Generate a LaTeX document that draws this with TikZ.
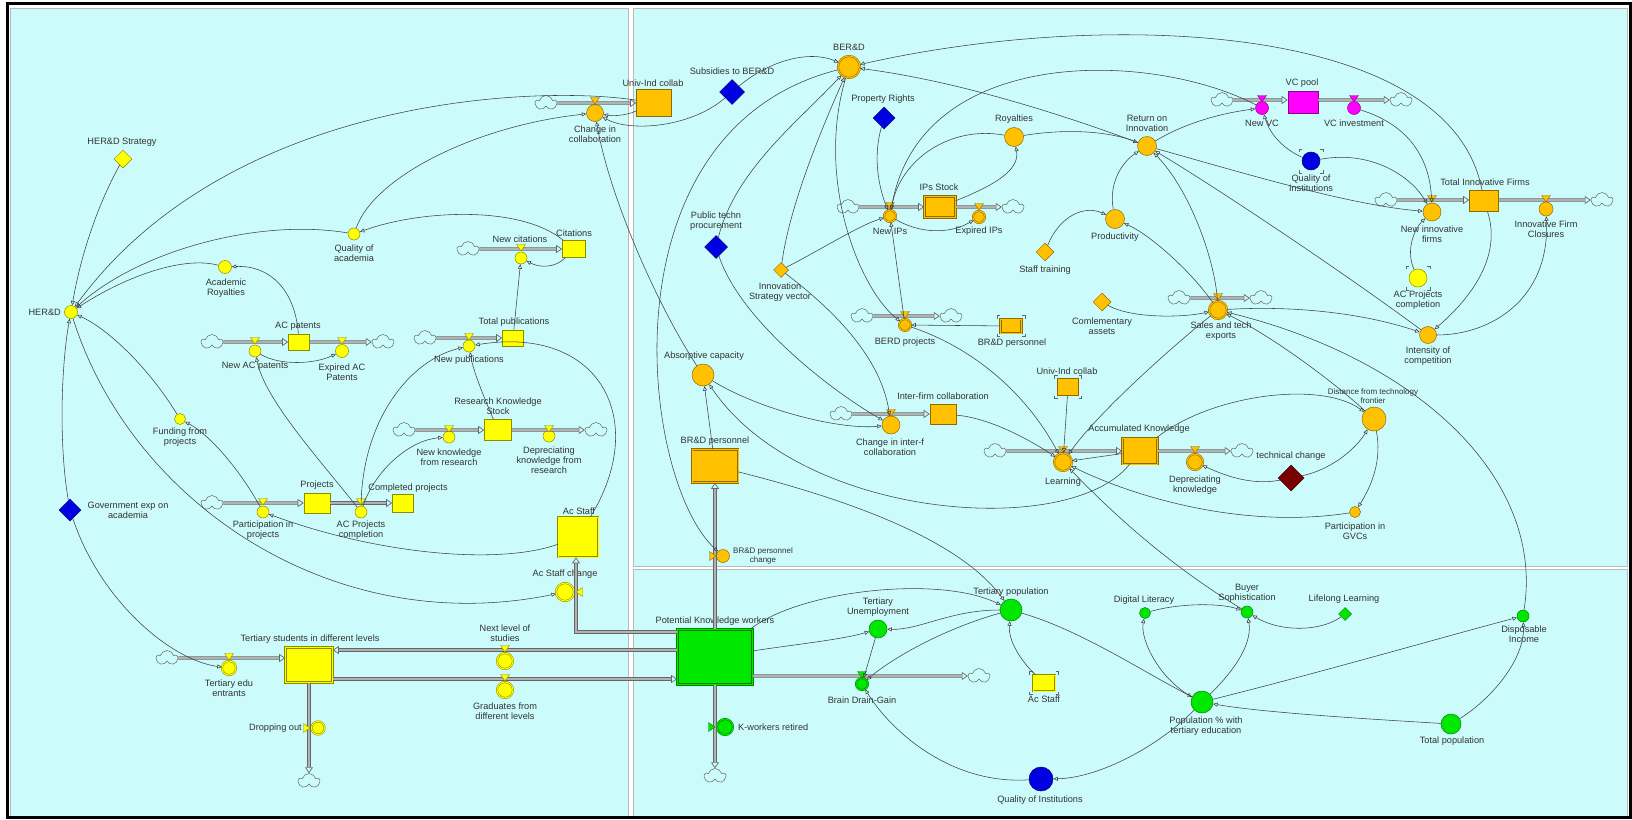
\documentclass[tikz,border=0pt]{standalone}
\usepackage{fontspec}
\setmainfont{Liberation Sans}
\usetikzlibrary{shapes.geometric,shapes.symbols,arrows.meta}

\definecolor{panel}{RGB}{204,251,251}
\definecolor{sdyellow}{RGB}{255,255,0}
\definecolor{sdorange}{RGB}{255,193,0}
\definecolor{sdgreen}{RGB}{0,232,0}
\definecolor{sdblue}{RGB}{0,0,225}
\definecolor{sdpink}{RGB}{255,0,255}
\definecolor{sdred}{RGB}{120,0,0}

% valve bow on a horizontal pipe: x, pipe y, colour
\newcommand{\valvetop}[3]{%
  \filldraw[fill=#3, draw=#3!55!black, line width=0.4pt]
    ({#1-4.5},{#2-3.5}) -- ({#1+4.5},{#2-3.5}) -- (#1,{#2+3}) -- cycle;}
% valve bow on a vertical pipe: x, y, colour, direction (1 right, -1 left)
\newcommand{\valveside}[4]{%
  \filldraw[fill=#3, draw=#3!55!black, line width=0.4pt]
    ({#1-3.5*(#4)},{#2-4.5}) -- ({#1-3.5*(#4)},{#2+4.5}) -- ({#1+3*(#4)},#2) -- cycle;}
% corner marks of a ghost: x, y, half width, half height
\newcommand{\ghostmarks}[4]{%
  \draw[black!60, line width=0.6pt]
    ({#1-#3},{#2-#4+3}) -- ({#1-#3},{#2-#4}) -- ({#1-#3+3},{#2-#4})
    ({#1+#3-3},{#2-#4}) -- ({#1+#3},{#2-#4}) -- ({#1+#3},{#2-#4+3})
    ({#1-#3},{#2+#4-3}) -- ({#1-#3},{#2+#4}) -- ({#1-#3+3},{#2+#4})
    ({#1+#3-3},{#2+#4}) -- ({#1+#3},{#2+#4}) -- ({#1+#3},{#2+#4-3});}

\begin{document}
\begin{tikzpicture}[x=1pt, y=-1pt,
  lbl/.style={font=\fontsize{9.2}{10}\selectfont, text=black!80, align=center, inner sep=0pt},
  smalllbl/.style={font=\fontsize{8}{8.5}\selectfont, text=black!80, align=center, inner sep=0pt},
  conv/.style={circle, draw=#1!55!black, fill=#1, inner sep=0pt, line width=0.5pt},
  stockbox/.style={rectangle, draw=#1!55!black, fill=#1, inner sep=0pt, line width=0.6pt},
  constd/.style={diamond, aspect=1, draw=#1!55!black, fill=#1, inner sep=0pt, line width=0.5pt},
  dbl/.style={double=#1, double distance=1pt},
  cloudy/.style={cloud, cloud puffs=5, draw=black!60, fill=panel, line width=0.5pt,
    minimum width=21pt, minimum height=15pt, inner sep=0pt},
  link/.style={draw=black!75, line width=0.55pt, -{Triangle[open,length=4.5pt,width=4pt]}},
  pipe/.style={draw=black!60, double=black!30, double distance=1.7pt, line width=0.7pt,
    -{Triangle[open,length=6pt,width=8pt]}}]

\useasboundingbox (0,0) rectangle (1632,819);
\fill[white] (0,0) rectangle (1632,819);
% the three sectors
\filldraw[fill=panel, draw=gray!55, line width=1pt] (10,8) rectangle (628,816);
\filldraw[fill=panel, draw=gray!55, line width=1pt] (633,8) rectangle (1627,566);
\filldraw[fill=panel, draw=gray!55, line width=1pt] (633,569) rectangle (1627,816);
\draw[line width=3pt] (7.5,3.5) rectangle (1630,817.5);

% academia
\node[constd=sdyellow, minimum size=18pt] (herdstrat) at (123,159) {};
\node[lbl] (herdstratT) at (122,142) {HER\&D Strategy};
\node[conv=sdyellow, minimum size=13pt] (herd) at (71,312) {};
\node[lbl, anchor=east] (herdT) at (61,312) {HER\&D};
\node[conv=sdyellow, minimum size=12pt] (qualacad) at (354,234) {};
\node[lbl] (qualacadT) at (354,253) {Quality of\\academia};
\node[conv=sdyellow, minimum size=13pt] (acroy) at (225,267) {};
\node[lbl] (acroyT) at (226,288) {Academic\\Royalties};
\node[stockbox=sdyellow, minimum width=21pt, minimum height=16pt] (acpat) at (299,342) {};
\node[lbl] (acpatT) at (298,326) {AC patents};
\node[cloudy] (cl1) at (212,342) {};
\node[conv=sdyellow, minimum size=12pt] (newacpat) at (255,351) {};
\node[lbl] (newacpatT) at (255,366) {New AC patents};
\node[conv=sdyellow, minimum size=13pt] (expacpat) at (342,351) {};
\node[lbl] (expacpatT) at (342,372) {Expired AC\\Patents};
\node[cloudy] (cl2) at (383,342) {};
\node[conv=sdyellow, minimum size=11pt] (fundproj) at (180,419) {};
\node[lbl] (fundprojT) at (180,437) {Funding from\\projects};
\node[constd=sdblue, minimum size=22pt] (govexp) at (70,510) {};
\node[lbl] (govexpT) at (128,510) {Government exp on\\academia};
\node[stockbox=sdyellow, minimum width=26pt, minimum height=20pt] (proj) at (317,503) {};
\node[lbl] (projT) at (317,485) {Projects};
\node[cloudy] (cl3) at (212,503) {};
\node[conv=sdyellow, minimum size=12pt] (partproj) at (263,512) {};
\node[lbl] (partprojT) at (263,530) {Participation in\\projects};
\node[conv=sdyellow, minimum size=12pt] (acprojc) at (361,512) {};
\node[lbl] (acprojcT) at (361,530) {AC Projects\\completion};
\node[stockbox=sdyellow, minimum width=21pt, minimum height=18pt] (complproj) at (403,503) {};
\node[lbl] (complprojT) at (408,488) {Completed projects};
\node[stockbox=sdyellow, minimum width=23pt, minimum height=17pt] (cit) at (574,249) {};
\node[lbl] (citT) at (574,233) {Citations};
\node[cloudy] (cl4) at (468,249) {};
\node[conv=sdyellow, minimum size=12pt] (newcit) at (521,258) {};
\node[lbl] (newcitT) at (520,239) {New citations};
\node[stockbox=sdyellow, minimum width=21pt, minimum height=16pt] (totpub) at (513,338) {};
\node[lbl] (totpubT) at (514,322) {Total publications};
\node[cloudy] (cl5) at (425,338) {};
\node[conv=sdyellow, minimum size=12pt] (newpub) at (469,346) {};
\node[lbl] (newpubT) at (469,360) {New publications};
\node[stockbox=sdyellow, minimum width=27pt, minimum height=21pt] (rks) at (498,430) {};
\node[lbl] (rksT) at (498,406) {Research Knowledge\\Stock};
\node[cloudy] (cl6) at (404,430) {};
\node[conv=sdyellow, minimum size=12pt] (newknow) at (449,437) {};
\node[lbl] (newknowT) at (449,457) {New knowledge\\from research};
\node[conv=sdyellow, minimum size=12pt] (depres) at (549,436) {};
\node[lbl] (depresT) at (549,460) {Depreciating\\knowledge from\\research};
\node[cloudy] (cl7) at (596,430) {};
\node[stockbox=sdyellow, dbl=sdyellow, minimum width=40pt, minimum height=40pt] (acstaff) at (578,537) {};
\node[lbl] (acstaffT) at (579,511) {Ac Staff};
\node[conv=sdyellow, dbl=sdyellow, minimum size=18pt] (acstaffch) at (565,592) {};
\node[lbl] (acstaffchT) at (565,574) {Ac Staff change};
\node[stockbox=sdyellow, dbl=sdyellow, minimum width=47pt, minimum height=35pt] (tsdl) at (309,665) {};
\node[lbl] (tsdlT) at (310,639) {Tertiary students in different levels};
\node[cloudy] (cl8) at (167,658) {};
\node[conv=sdyellow, dbl=sdyellow, minimum size=14pt] (tedu) at (229,668) {};
\node[lbl] (teduT) at (229,688) {Tertiary edu\\entrants};
\node[conv=sdyellow, dbl=sdyellow, minimum size=13pt] (dropout) at (318,728) {};
\node[lbl, anchor=east] (dropoutT) at (302,728) {Dropping out};
\node[cloudy] (cl9) at (309,781) {};
\node[conv=sdyellow, dbl=sdyellow, minimum size=16pt] (nextlev) at (505,661) {};
\node[lbl] (nextlevT) at (505,633) {Next level of\\studies};
\node[conv=sdyellow, dbl=sdyellow, minimum size=16pt] (grad) at (505,690) {};
\node[lbl] (gradT) at (505,711) {Graduates from\\different levels};
\node[stockbox=sdgreen, dbl=sdgreen, minimum width=75pt, minimum height=55pt] (pkw) at (715,657) {};
\node[lbl] (pkwT) at (715,621) {Potential Knowledge workers};
\node[conv=sdgreen, dbl=sdgreen, minimum size=16pt] (kwret) at (725,727) {};
\node[lbl, anchor=west] (kwretT) at (738,727) {K-workers retired};
\node[cloudy] (cl10) at (715,776) {};

% business sector
\node[stockbox=sdorange, minimum width=35pt, minimum height=27pt] (univind) at (654,103) {};
\node[lbl] (univindT) at (653,83) {Univ-Ind collab};
\node[cloudy] (cl11) at (546,103) {};
\node[conv=sdorange, minimum size=17pt] (chcollab) at (595,113) {};
\node[lbl] (chcollabT) at (595,134) {Change in\\collaboration};
\node[constd=sdblue, minimum size=25pt] (subs) at (732,92) {};
\node[lbl] (subsT) at (732,71) {Subsidies to BER\&D};
\node[constd=sdblue, minimum size=23pt] (pubtech) at (716,247) {};
\node[lbl] (pubtechT) at (716,221) {Public techn\\procurement};
\node[constd=sdorange, minimum size=15pt] (innovstrat) at (781,270) {};
\node[lbl] (innovstratT) at (780,292) {Innovation\\Strategy vector};
\node[conv=sdorange, dbl=sdorange, minimum size=22pt] (berd) at (849,67) {};
\node[lbl] (berdT) at (849,47) {BER\&D};
\node[constd=sdblue, minimum size=22pt] (proprights) at (884,118) {};
\node[lbl] (proprightsT) at (883,99) {Property Rights};
\node[conv=sdorange, minimum size=19pt] (royalties) at (1014,137) {};
\node[lbl] (royaltiesT) at (1014,119) {Royalties};
\node[conv=sdorange, minimum size=19pt] (retinn) at (1147,146) {};
\node[lbl] (retinnT) at (1147,123) {Return on\\Innovation};
\node[stockbox=sdorange, dbl=sdorange, minimum width=31pt, minimum height=21pt] (ipsstock) at (940,207) {};
\node[lbl] (ipsstockT) at (939,187) {IPs Stock};
\node[cloudy] (cl12) at (848,207) {};
\node[conv=sdorange, dbl=sdorange, minimum size=12pt] (newips) at (890,216) {};
\node[lbl] (newipsT) at (890,231) {New IPs};
\node[conv=sdorange, dbl=sdorange, minimum size=12pt] (expips) at (979,217) {};
\node[lbl] (expipsT) at (979,231) {Expired IPs};
\node[cloudy] (cl13) at (1013,207) {};
\node[conv=sdorange, minimum size=19pt] (productivity) at (1115,219) {};
\node[lbl] (productivityT) at (1115,237) {Productivity};
\node[constd=sdorange, minimum size=18pt] (stafftrain) at (1045,252) {};
\node[lbl] (stafftrainT) at (1045,270) {Staff training};
\node[stockbox=sdpink, minimum width=30pt, minimum height=22pt] (vcpool) at (1303,102) {};
\node[lbl] (vcpoolT) at (1302,83) {VC pool};
\node[cloudy] (cl14) at (1222,100) {};
\node[conv=sdpink, minimum size=13pt] (newvc) at (1262,108) {};
\node[lbl] (newvcT) at (1262,123) {New VC};
\node[conv=sdpink, minimum size=13pt] (vcinv) at (1354,108) {};
\node[lbl] (vcinvT) at (1354,123) {VC investment};
\node[cloudy] (cl15) at (1401,100) {};
\node[conv=sdblue, minimum size=18pt] (qinst1) at (1311,161) {};
\node[lbl] (qinst1T) at (1311,183) {Quality of\\Institutions};
\node[stockbox=sdorange, minimum width=29pt, minimum height=21pt] (totinnov) at (1484,201) {};
\node[lbl] (totinnovT) at (1485,182) {Total Innovative Firms};
\node[cloudy] (cl16) at (1386,200) {};
\node[conv=sdorange, minimum size=18pt] (newinnov) at (1432,212) {};
\node[lbl] (newinnovT) at (1432,234.5) {New innovative\\firms};
\node[conv=sdorange, minimum size=14pt] (innovclos) at (1546,209) {};
\node[lbl] (innovclosT) at (1546,229) {Innovative Firm\\Closures};
\node[cloudy] (cl17) at (1602,200) {};
\node[conv=sdyellow, minimum size=18pt] (acprojg) at (1418,278) {};
\node[lbl] (acprojgT) at (1418,300.5) {AC Projects\\completion};
\node[conv=sdorange, minimum size=17pt] (intcomp) at (1428,335) {};
\node[lbl] (intcompT) at (1428,356.5) {Intensity of\\competition};
\node[conv=sdorange, minimum size=24pt] (distfront) at (1374,419) {};
\node[smalllbl] (distfrontT) at (1373,396) {Distance from technology\\frontier};
\node[constd=sdred, minimum size=26pt] (techch) at (1291,478) {};
\node[lbl] (techchT) at (1291,456) {technical change};
\node[conv=sdorange, minimum size=11pt] (partgvc) at (1355,512) {};
\node[lbl] (partgvcT) at (1355,531) {Participation in\\GVCs};
\node[cloudy] (cl18) at (1179,298) {};
\node[cloudy] (cl19) at (1261,298) {};
\node[conv=sdorange, dbl=sdorange, minimum size=18pt] (salestech) at (1218,310) {};
\node[lbl] (salestechT) at (1221,331) {Sales and tech\\exports};
\node[cloudy] (cl20) at (862,316) {};
\node[cloudy] (cl21) at (951,316) {};
\node[conv=sdorange, dbl=sdorange, minimum size=12pt] (berdproj) at (905,325) {};
\node[lbl] (berdprojT) at (905,342) {BERD projects};
\node[stockbox=sdorange, dbl=sdorange, minimum width=21pt, minimum height=14pt] (brdpersg) at (1011,326) {};
\node[lbl] (brdpersgT) at (1012,343) {BR\&D personnel};
\node[constd=sdorange, minimum size=18pt] (complassets) at (1102,302) {};
\node[lbl] (complassetsT) at (1102,326) {Comlementary\\assets};
\node[stockbox=sdorange, minimum width=21pt, minimum height=17pt] (univindg) at (1068,387) {};
\node[lbl] (univindgT) at (1067,371) {Univ-Ind collab};
\node[stockbox=sdorange, minimum width=26pt, minimum height=20pt] (interfirm) at (943,414) {};
\node[lbl] (interfirmT) at (943,396) {Inter-firm collaboration};
\node[cloudy] (cl22) at (841,414) {};
\node[conv=sdorange, minimum size=18pt] (chinterf) at (891,425) {};
\node[lbl] (chinterfT) at (890,447) {Change in inter-f\\collaboration};
\node[cloudy] (cl23) at (995,451) {};
\node[conv=sdorange, dbl=sdorange, minimum size=18pt] (learning) at (1063,462) {};
\node[lbl] (learningT) at (1063,482) {Learning};
\node[stockbox=sdorange, dbl=sdorange, minimum width=35pt, minimum height=26pt] (accknow) at (1140,451) {};
\node[lbl] (accknowT) at (1139,429) {Accumulated Knowledge};
\node[conv=sdorange, dbl=sdorange, minimum size=16pt] (depknow) at (1195,462) {};
\node[lbl] (depknowT) at (1195,485) {Depreciating\\knowledge};
\node[cloudy] (cl24) at (1242,451) {};
\node[conv=sdorange, minimum size=22pt] (abscap) at (703,375) {};
\node[lbl] (abscapT) at (704,356) {Absorptive capacity};
\node[stockbox=sdorange, dbl=sdorange, minimum width=46pt, minimum height=33pt] (brdpers) at (715,466) {};
\node[lbl] (brdpersT) at (715,441) {BR\&D personnel};
\node[conv=sdorange, minimum size=13pt] (brdpch) at (723,556) {};
\node[smalllbl] (brdpchT) at (763,556) {BR\&D personnel\\change};

% society
\node[conv=sdgreen, minimum size=22pt] (terpop) at (1011,610) {};
\node[lbl] (terpopT) at (1011,592) {Tertiary population};
\node[conv=sdgreen, minimum size=18pt] (terunemp) at (878,629) {};
\node[lbl] (terunempT) at (878,607.5) {Tertiary\\Unemployment};
\node[conv=sdgreen, dbl=sdgreen, minimum size=12pt] (braindrain) at (862,684) {};
\node[lbl] (braindrainT) at (862,700) {Brain Drain-Gain};
\node[cloudy] (cl25) at (979,676) {};
\node[stockbox=sdyellow, dbl=sdyellow, minimum width=22pt, minimum height=16pt] (acstaffg) at (1044,683) {};
\node[lbl] (acstaffgT) at (1044,699) {Ac Staff};
\node[conv=sdgreen, minimum size=11pt] (diglit) at (1145,613) {};
\node[lbl] (diglitT) at (1144,600) {Digital Literacy};
\node[conv=sdgreen, minimum size=22pt] (popter) at (1202,702) {};
\node[lbl] (popterT) at (1206,726.5) {Population \% with\\tertiary education};
\node[conv=sdblue, minimum size=24pt] (qinst2) at (1041,779) {};
\node[lbl] (qinst2T) at (1040,800) {Quality of Institutions};
\node[conv=sdgreen, minimum size=12pt] (buyersoph) at (1247,612) {};
\node[lbl] (buyersophT) at (1247,593) {Buyer\\Sophistication};
\node[constd=sdgreen, minimum size=13pt] (lifelong) at (1345,614) {};
\node[lbl] (lifelongT) at (1344,599) {Lifelong Learning};
\node[conv=sdgreen, minimum size=12pt] (dispinc) at (1523,616) {};
\node[lbl] (dispincT) at (1524,634) {Disposable\\Income};
\node[conv=sdgreen, minimum size=20pt] (totpop) at (1451,724) {};
\node[lbl] (totpopT) at (1452,741) {Total population};

\ghostmarks{1011}{326}{14}{10.5}
\ghostmarks{1068}{387}{13.5}{11.5}
\ghostmarks{1044}{683}{14.5}{11.5}
\ghostmarks{1311}{161}{12}{12}
\ghostmarks{1418}{278}{12}{12}

% flows
\draw[pipe] (cl1) -- (acpat);
\draw[pipe] (acpat) -- (cl2);
\draw[pipe] (cl3) -- (proj);
\draw[pipe] (proj) -- (complproj);
\draw[pipe] (cl4) -- (cit);
\draw[pipe] (cl5) -- (totpub);
\draw[pipe] (cl6) -- (rks);
\draw[pipe] (rks) -- (cl7);
\draw[pipe] (cl8) -- ([yshift=7pt]tsdl.west);
\draw[pipe] (tsdl) -- (cl9);
\draw[pipe] ([yshift=7pt]pkw.west) -- ([yshift=15pt]tsdl.east);
\draw[pipe] ([yshift=-14pt]tsdl.east) -- ([yshift=-22pt]pkw.west);
\draw[pipe] ([yshift=25pt]pkw.west) -| ([xshift=-2pt]acstaff.south);
\draw[pipe] (pkw) -- (brdpers);
\draw[pipe] (pkw) -- (cl10);
\draw[pipe] ([yshift=-19pt]pkw.east) -- (cl25);
\draw[pipe] (cl11) -- (univind);
\draw[pipe] (cl12) -- (ipsstock);
\draw[pipe] (ipsstock) -- (cl13);
\draw[pipe] (cl14) -- ([yshift=2pt]vcpool.west);
\draw[pipe] ([yshift=2pt]vcpool.east) -- (cl15);
\draw[pipe] (cl16) -- ([yshift=1pt]totinnov.west);
\draw[pipe] ([yshift=1pt]totinnov.east) -- (cl17);
\draw[pipe] (cl18) -- (cl19);
\draw[pipe] (cl20) -- (cl21);
\draw[pipe] (cl22) -- (interfirm);
\draw[pipe] (cl23) -- (accknow);
\draw[pipe] (accknow) -- (cl24);

\valvetop{255}{341}{sdyellow}
\valvetop{342}{341}{sdyellow}
\valvetop{263}{502}{sdyellow}
\valvetop{361}{502}{sdyellow}
\valvetop{521}{248}{sdyellow}
\valvetop{469}{337}{sdyellow}
\valvetop{449}{429}{sdyellow}
\valvetop{549}{429}{sdyellow}
\valvetop{229}{657}{sdyellow}
\valvetop{505}{649}{sdyellow}
\valvetop{505}{678}{sdyellow}
\valvetop{595}{101}{sdorange}
\valvetop{890}{206}{sdorange}
\valvetop{979}{207}{sdorange}
\valvetop{1262}{99}{sdpink}
\valvetop{1354}{99}{sdpink}
\valvetop{1432}{199}{sdorange}
\valvetop{1546}{199}{sdorange}
\valvetop{1218}{297}{sdorange}
\valvetop{905}{315}{sdorange}
\valvetop{891}{413}{sdorange}
\valvetop{1063}{450}{sdorange}
\valvetop{1195}{450}{sdorange}
\valvetop{862}{675}{sdgreen}
\valveside{307}{728}{sdyellow}{1}
\valveside{579}{592}{sdyellow}{-1}
\valveside{713}{556}{sdorange}{1}
\valveside{712}{727}{sdgreen}{1}

% information links
\draw[link] (herdstrat) .. controls (95,210) and (80,260) .. (herd);
\draw[link] (univind) .. controls (540,85) and (230,95) .. (herd);
\draw[link] (qualacad) .. controls (260,218) and (140,250) .. (herd);
\draw[link] (acroy) .. controls (180,255) and (120,280) .. (herd);
\draw[link] (qualacad) .. controls (375,175) and (480,125) .. (chcollab);
\draw[link] (cit) .. controls (520,205) and (420,210) .. (qualacad);
\draw[link] (totpub) -- (newcit);
\draw[link] (cit) .. controls (555,268) and (540,268) .. (newcit);
\draw[link] (acpat) .. controls (295,290) and (270,265) .. (acroy);
\draw[link] (newacpat) .. controls (280,366) and (315,364) .. (expacpat);
\draw[link] (acprojc) .. controls (320,460) and (265,400) .. (newacpat);
\draw[link] (fundproj) .. controls (150,370) and (110,330) .. (herd);
\draw[link] (partproj) .. controls (240,470) and (210,435) .. (fundproj);
\draw[link] (govexp) .. controls (58,440) and (62,360) .. (herd);
\draw[link] (govexp) .. controls (100,600) and (170,660) .. (tedu);
\draw[link] (herd) .. controls (130,500) and (330,640) .. (acstaffch);
\draw[link] (acstaff) .. controls (500,565) and (380,555) .. (partproj);
\draw[link] (acstaff) .. controls (650,420) and (600,325) .. (newpub);
\draw[link] (rks) .. controls (483,395) and (473,370) .. (newpub);
\draw[link] (acprojc) .. controls (362,420) and (410,360) .. (newpub);
\draw[link] (acprojc) .. controls (375,470) and (410,440) .. (newknow);
\draw[link] (abscap) .. controls (660,310) and (610,200) .. (chcollab);
\draw[link] (berd) .. controls (600,130) and (640,480) .. (brdpch);
\draw[link] (univind) .. controls (625,116) and (612,116) .. (chcollab);
\draw[link] (subs) .. controls (770,60) and (810,50) .. (berd);
\draw[link] (subs) .. controls (690,128) and (630,132) .. (chcollab);
\draw[link] (pubtech) .. controls (735,170) and (800,120) .. (berd);
\draw[link] (pubtech) .. controls (740,320) and (830,390) .. (chinterf);
\draw[link] (innovstrat) .. controls (790,200) and (830,110) .. (berd);
\draw[link] (innovstrat) .. controls (820,250) and (860,225) .. (newips);
\draw[link] (innovstrat) .. controls (820,300) and (880,350) .. (chinterf);
\draw[link] (abscap) .. controls (760,410) and (840,430) .. (chinterf);
\draw[link] (accknow) .. controls (1070,540) and (800,520) .. (abscap);
\draw[link] (berd) .. controls (815,180) and (860,290) .. (berdproj);
\draw[link] (proprights) .. controls (872,160) and (880,190) .. (newips);
\draw[link] (newvc) .. controls (1150,50) and (920,45) .. (newips);
\draw[link] (royalties) .. controls (950,125) and (900,160) .. (newips);
\draw[link] (ipsstock) .. controls (995,185) and (1020,170) .. (royalties);
\draw[link] (newips) .. controls (920,234) and (950,234) .. (expips);
\draw[link] (royalties) .. controls (1070,128) and (1110,132) .. (retinn);
\draw[link] (retinn) .. controls (1050,110) and (950,80) .. (berd);
\draw[link] (totinnov) .. controls (1450,20) and (1100,10) .. (berd);
\draw[link] (berdproj) -- (newips);
\draw[link] (brdpersg) -- (berdproj);
\draw[link] (berdproj) .. controls (980,350) and (1030,400) .. (learning);
\draw[link] (productivity) .. controls (1108,180) and (1125,160) .. (retinn);
\draw[link] (stafftrain) .. controls (1060,215) and (1085,205) .. (productivity);
\draw[link] (salestech) .. controls (1190,270) and (1150,235) .. (productivity);
\draw[link] (retinn) .. controls (1190,120) and (1230,112) .. (newvc);
\draw[link] (retinn) .. controls (1250,175) and (1350,205) .. (newinnov);
\draw[link] (intcomp) .. controls (1340,270) and (1220,190) .. (retinn);
\draw[link] (salestech) .. controls (1215,260) and (1190,190) .. (retinn);
\draw[link] (qinst1) .. controls (1370,150) and (1410,175) .. (newinnov);
\draw[link] (qinst1) .. controls (1285,150) and (1270,135) .. (newvc);
\draw[link] (vcinv) .. controls (1410,125) and (1430,160) .. (newinnov);
\draw[link] (acprojg) .. controls (1405,250) and (1415,228) .. (newinnov);
\draw[link] (totinnov) .. controls (1500,250) and (1480,290) .. (intcomp);
\draw[link] (intcomp) .. controls (1490,335) and (1550,300) .. (innovclos);
\draw[link] (salestech) .. controls (1300,305) and (1370,315) .. (intcomp);
\draw[link] (dispinc) .. controls (1545,480) and (1420,360) .. (salestech);
\draw[link] (complassets) .. controls (1130,318) and (1180,318) .. (salestech);
\draw[link] (salestech) .. controls (1180,340) and (1100,410) .. (learning);
\draw[link] (univindg) -- (learning);
\draw[link] (interfirm) .. controls (990,418) and (1030,440) .. (learning);
\draw[link] (accknow) -- (learning);
\draw[link] (partgvc) .. controls (1240,530) and (1130,495) .. (learning);
\draw[link] (buyersoph) .. controls (1160,560) and (1100,500) .. (learning);
\draw[link] (techch) .. controls (1255,485) and (1230,478) .. (depknow);
\draw[link] (techch) .. controls (1330,470) and (1355,450) .. (distfront);
\draw[link] (accknow) .. controls (1210,395) and (1320,380) .. (distfront);
\draw[link] (distfront) .. controls (1382,460) and (1372,485) .. (partgvc);
\draw[link] (distfront) .. controls (1320,370) and (1260,330) .. (salestech);
\draw[link] (brdpers) -- (abscap);
\draw[link] (brdpers) .. controls (850,500) and (960,540) .. (terpop);
\draw[link] (totpop) .. controls (1490,700) and (1525,660) .. (dispinc);
\draw[link] (popter) .. controls (1330,670) and (1450,635) .. (dispinc);
\draw[link] (totpop) .. controls (1350,718) and (1260,712) .. (popter);
\draw[link] (terpop) .. controls (1080,630) and (1140,670) .. (popter);
\draw[link] (popter) .. controls (1160,680) and (1140,640) .. (diglit);
\draw[link] (popter) .. controls (1240,665) and (1252,640) .. (buyersoph);
\draw[link] (diglit) .. controls (1180,603) and (1220,603) .. (buyersoph);
\draw[link] (lifelong) .. controls (1320,632) and (1280,632) .. (buyersoph);
\draw[link] (popter) .. controls (1160,745) and (1100,778) .. (qinst2);
\draw[link] (qinst2) .. controls (950,785) and (890,730) .. (braindrain);
\draw[link] (terpop) .. controls (950,610) and (920,630) .. (terunemp);
\draw[link] (terunemp) -- (braindrain);
\draw[link] (terpop) .. controls (940,630) and (890,660) .. (braindrain);
\draw[link] (acstaffg) .. controls (1020,660) and (1008,640) .. (terpop);
\draw[link] (pkw) .. controls (790,645) and (840,640) .. (terunemp);
\draw[link] (pkw) .. controls (800,590) and (940,575) .. (terpop);
\end{tikzpicture}
\end{document}
